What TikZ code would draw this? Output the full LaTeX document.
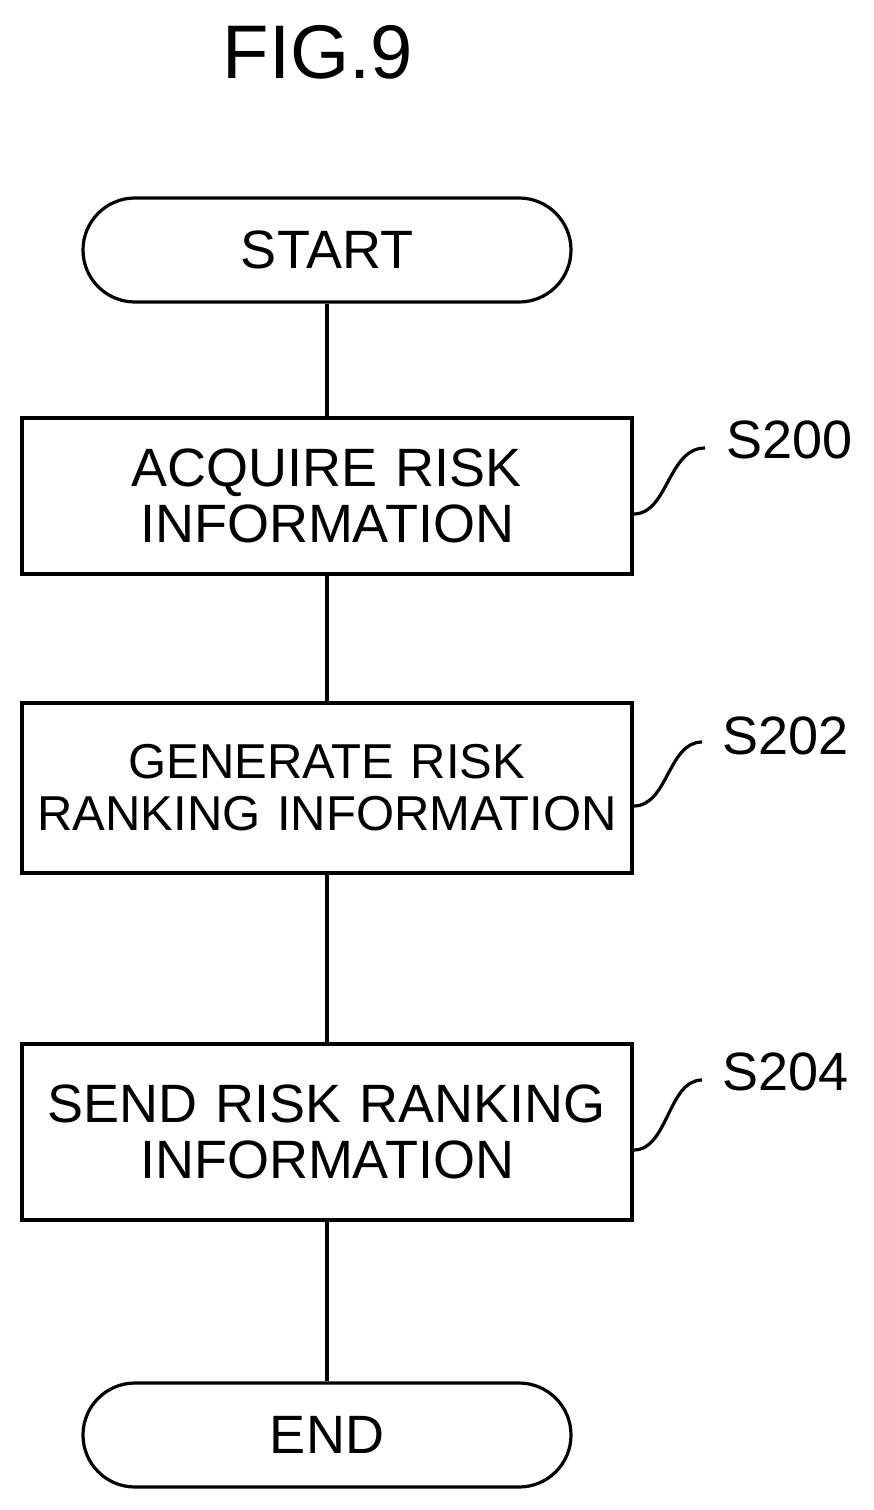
\documentclass[tikz,border=0pt]{standalone}
\usepackage{fontspec}
\setmainfont{Liberation Sans}
\usetikzlibrary{positioning}
\begin{document}
\begin{tikzpicture}[x=0.5pt,y=-0.5pt,line width=1.6pt,
    term/.style={draw,rounded corners=26pt,minimum width=244pt,minimum height=52pt,font=\fontsize{27}{27}\selectfont},
    procbox/.style={draw,text width=300pt,inner xsep=2.5pt,align=center,font=\fontsize{27}{28}\selectfont},
    lbl/.style={anchor=west,font=\fontsize{27}{27}\selectfont}]
    \useasboundingbox (0,0) rectangle (873,1510);

    \node[font=\fontsize{38}{38}\selectfont] (fig) at (318,52) {FIG.9};

    % flow
    \node[term] (start) at (327,250) {START};
    \node[procbox,minimum height=78pt] (b1) at (327,496) {ACQUIRE RISK\\INFORMATION};
    \node[procbox,minimum height=85pt,font=\fontsize{24.5}{26}\selectfont] (b2) at (327,788) {GENERATE RISK\\RANKING INFORMATION};
    \node[procbox,minimum height=88pt] (b3) at (327,1132) {SEND RISK RANKING\\INFORMATION};
    \node[term] (end) at (327,1435) {END};

    \draw (start) -- (b1);
    \draw (b1) -- (b2);
    \draw (b2) -- (b3);
    \draw (b3) -- (end);

    % step labels
    \node[lbl] (s200) at (718,440) {S200};
    \node[lbl] (s202) at (714,736) {S202};
    \node[lbl] (s204) at (714,1072) {S204};
    \coordinate (l1) at (705,448);
    \coordinate (l2) at (702,742);
    \coordinate (l3) at (702,1080);
    \draw ([yshift=-9pt]b1.east) .. controls (668,514) and (668,448) .. (l1);
    \draw ([yshift=-9pt]b2.east) .. controls (668,806) and (668,742) .. (l2);
    \draw ([yshift=-9pt]b3.east) .. controls (668,1150) and (668,1080) .. (l3);
\end{tikzpicture}
\end{document}
